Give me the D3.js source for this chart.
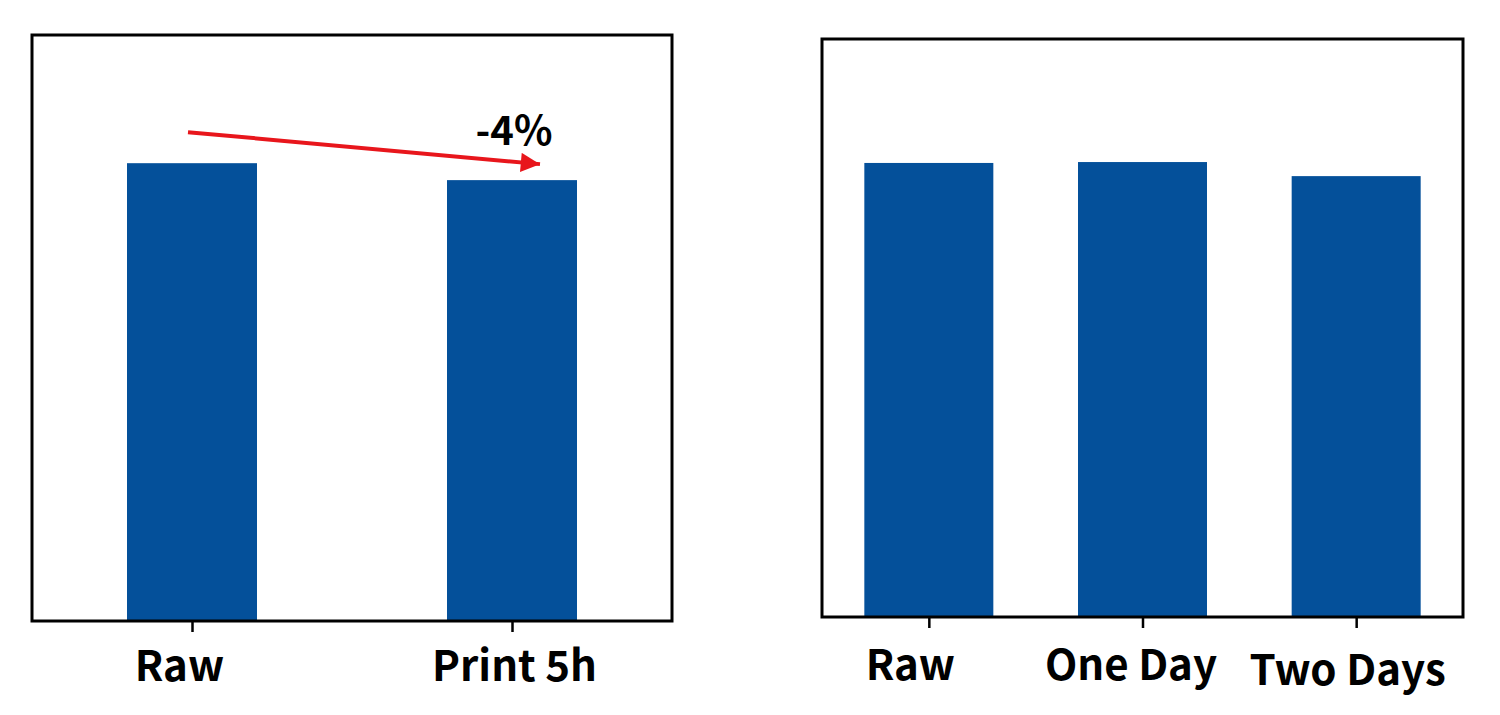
<!DOCTYPE html>
<html><head><meta charset="utf-8">
<script src="https://cdn.jsdelivr.net/npm/d3@7"></script>
<style>body{margin:0;background:#fff}svg{display:block}</style>
</head><body>
<svg id="c" width="1500" height="715"></svg>
<script>
const leftCategories = ["Raw", "Print 5h"];
const leftValues = [100, 96.3];
const rightCategories = ["Raw", "One Day", "Two Days"];
const rightValues = [100, 100.2, 97.1];
const annotationText = "-4%";

const svg = d3.select("#c");
const barColor = "#04509a";
const font = "'Noto Sans CJK SC', 'Noto Sans', sans-serif";

function panel(cats, vals, box, yMax, barW, labelY, labelDx) {
  const x = d3.scalePoint().domain(cats).range([box.x0, box.x1]).padding(0.5);
  const y = d3.scaleLinear().domain([0, yMax]).range([box.y1, box.y0]);
  const g = svg.append("g");
  g.selectAll("rect.bar").data(cats).join("rect")
    .attr("class", "bar")
    .attr("x", d => x(d) - barW / 2)
    .attr("width", barW)
    .attr("y", (d, i) => y(vals[i]))
    .attr("height", (d, i) => y(0) - y(vals[i]))
    .attr("fill", barColor);
  g.append("rect")
    .attr("x", box.x0).attr("y", box.y0)
    .attr("width", box.x1 - box.x0).attr("height", box.y1 - box.y0)
    .attr("fill", "none").attr("stroke", "#000").attr("stroke-width", 3);
  const ax = g.append("g").attr("transform", `translate(0,${box.y1})`)
    .call(d3.axisBottom(x).tickSize(11));
  ax.select(".domain").remove();
  ax.selectAll(".tick line").attr("stroke", "#000").attr("stroke-width", 2.5);
  ax.selectAll(".tick text")
    .attr("font-family", font).attr("font-weight", "bold")
    .attr("font-size", 42).attr("fill", "#000")
    .attr("y", (d, i) => labelY[i])
    .attr("dy", 0)
    .attr("dx", (d, i) => labelDx[i]);
  return {x, y};
}

const L = panel(leftCategories, leftValues, {x0: 32, x1: 672, y0: 35, y1: 621}, 128, 130,
  [60, 60], [-13, 2]);
const R = panel(rightCategories, rightValues, {x0: 822, x1: 1463, y0: 39, y1: 617}, 127.3, 129,
  [63, 63, 68], [-19, -12, -9]);

// annotation arrow
const defs = svg.append("defs");
defs.append("marker").attr("id", "ah").attr("viewBox", "0 0 10 10")
  .attr("refX", 10).attr("refY", 5).attr("markerWidth", 5.5).attr("markerHeight", 4.8)
  .attr("markerUnits", "strokeWidth").attr("orient", "auto")
  .append("path").attr("d", "M0,0L10,5L0,10Z").attr("fill", "#e8161c");

const xs = L.x(leftCategories[0]) - 4;
const ys = L.y(leftValues[0]) - 31;
const xe = L.x(leftCategories[1]) + 28;
const ye = L.y(leftValues[1]) - 16;
svg.append("line").attr("x1", xs).attr("y1", ys).attr("x2", xe).attr("y2", ye)
  .attr("stroke", "#e8161c").attr("stroke-width", 4).attr("marker-end", "url(#ah)");
svg.append("text").attr("x", L.x(leftCategories[1]) + 2).attr("y", 145)
  .attr("text-anchor", "middle").attr("font-family", font).attr("font-weight", "bold")
  .attr("font-size", 40).attr("fill", "#000").text(annotationText);
</script>
</body></html>
